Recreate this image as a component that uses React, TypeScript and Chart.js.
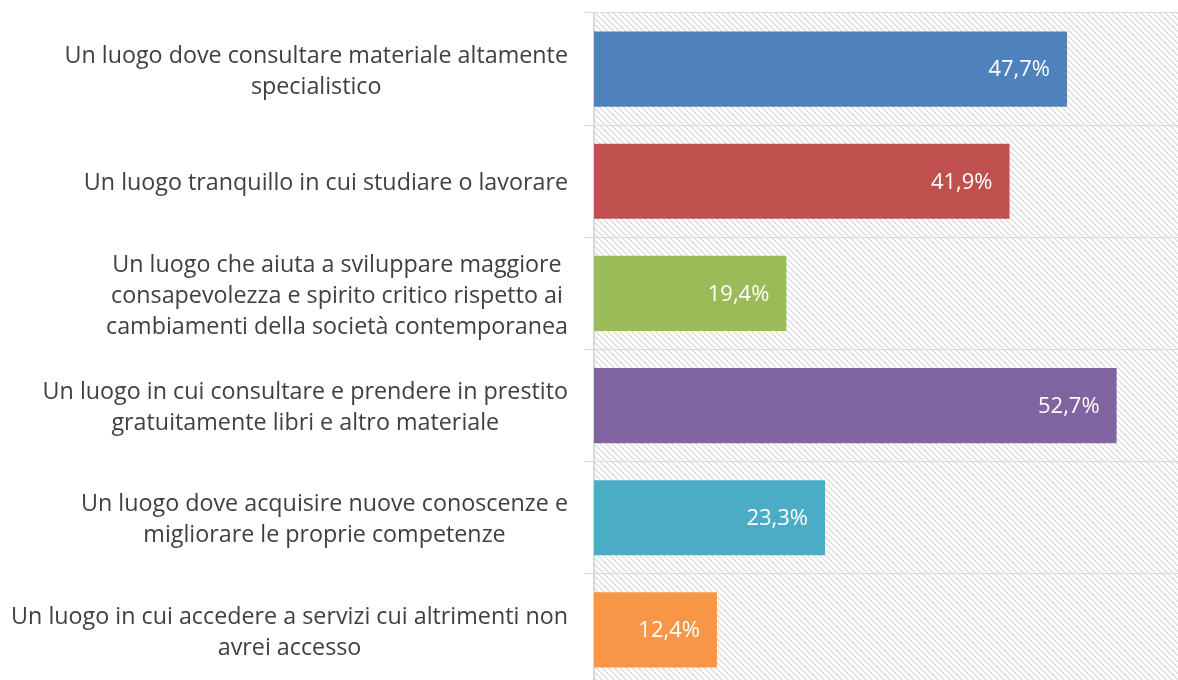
import React, { useEffect, useRef } from "react";
import { Chart, registerables } from "chart.js";

Chart.register(...registerables);

const categories: string[][] = [
  ["Un luogo dove consultare materiale altamente", "specialistico"],
  ["Un luogo tranquillo in cui studiare o lavorare"],
  [
    "Un luogo che aiuta a sviluppare maggiore",
    "consapevolezza e spirito critico rispetto ai",
    "cambiamenti della società contemporanea",
  ],
  ["Un luogo in cui consultare e prendere in prestito", "gratuitamente libri e altro materiale"],
  ["Un luogo dove acquisire nuove conoscenze e", "migliorare le proprie competenze"],
  ["Un luogo in cui accedere a servizi cui altrimenti non", "avrei accesso"],
];

const values: number[] = [47.7, 41.9, 19.4, 52.7, 23.3, 12.4];

const barColors: string[] = ["#4F81BD", "#C0504D", "#9BBB59", "#8064A2", "#4BACC6", "#F79646"];

const FONT = "'Open Sans', 'Noto Sans', sans-serif";
const LABEL_SIZE = 23.3;
const VALUE_SIZE = 22;

function makePattern(ctx: CanvasRenderingContext2D) {
  const size = 6;
  const c = document.createElement("canvas");
  c.width = size;
  c.height = size;
  const p = c.getContext("2d")!;
  p.fillStyle = "#ffffff";
  p.fillRect(0, 0, size, size);
  for (let y = 0; y < size; y++) {
    for (let x = 0; x < size; x++) {
      const d = (((x - y) % size) + size) % size;
      if (d === 0) {
        p.fillStyle = "#d4d4d4";
        p.fillRect(x, y, 1, 1);
      } else if (d === 1) {
        p.fillStyle = "#ececec";
        p.fillRect(x, y, 1, 1);
      }
    }
  }
  return ctx.createPattern(c, "repeat");
}

const hatchPlugin = {
  id: "hatch",
  beforeDraw(chart: any) {
    const { ctx, chartArea } = chart;
    const pat = makePattern(ctx);
    if (!pat) return;
    ctx.save();
    ctx.fillStyle = pat;
    ctx.fillRect(chartArea.left, chartArea.top, chartArea.right - chartArea.left, chartArea.bottom - chartArea.top);
    ctx.restore();
  },
};

const labelPlugin = {
  id: "customLabels",
  afterDraw(chart: any) {
    const { ctx } = chart;
    const yScale = chart.scales.y;
    const rightEdge = chart.chartArea.left - 26;
    const lineH = 31;
    ctx.save();
    ctx.font = `${LABEL_SIZE}px ${FONT}`;
    ctx.fillStyle = "#404040";
    ctx.textAlign = "center";
    ctx.textBaseline = "middle";
    categories.forEach((lines, i) => {
      const yc = yScale.getPixelForValue(i) + 2.5;
      const w = Math.max(...lines.map((l) => ctx.measureText(l).width));
      const xc = rightEdge - w / 2;
      const startY = yc - ((lines.length - 1) * lineH) / 2;
      lines.forEach((l, j) => ctx.fillText(l, xc, startY + j * lineH));
    });

    const meta = chart.getDatasetMeta(0);
    ctx.font = `${VALUE_SIZE}px ${FONT}`;
    ctx.fillStyle = "#ffffff";
    ctx.textAlign = "right";
    meta.data.forEach((bar: any, i: number) => {
      const txt = values[i].toFixed(1).replace(".", ",") + "%";
      ctx.fillText(txt, bar.x - 17, bar.y + 1);
    });
    ctx.restore();
  },
};

export default function App() {
  const ref = useRef<HTMLCanvasElement | null>(null);
  useEffect(() => {
    if (!ref.current) return;
    const chart = new Chart(ref.current, {
      type: "bar",
      data: {
        labels: categories.map((c) => c.join(" ")),
        datasets: [
          {
            data: values,
            backgroundColor: barColors,
            borderWidth: 0,
            categoryPercentage: 1,
            barPercentage: 0.67,
          },
        ],
      },
      options: {
        indexAxis: "y",
        responsive: false,
        animation: false,
        layout: { padding: { top: 13, right: 0, bottom: 0, left: 0 } },
        plugins: { legend: { display: false }, tooltip: { enabled: false } },
        scales: {
          x: { display: false, min: 0, max: 60 },
          y: {
            ticks: { display: false },
            grid: { color: "#d9d9d9", lineWidth: 1, offset: true, drawTicks: true, tickLength: 9 },
            border: { display: true, color: "#d9d9d9", width: 2 },
            afterFit: (scale: any) => {
              scale.width = 594;
            },
          },
        },
      },
      plugins: [hatchPlugin, labelPlugin],
    });
    return () => chart.destroy();
  }, []);
  return (
    <div
      style={{
        position: "fixed",
        left: 0,
        top: 0,
        width: 1178,
        height: 680,
        overflow: "hidden",
        background: "#ffffff",
      }}
    >
      <canvas ref={ref} width={1189} height={686} style={{ display: "block" }} />
    </div>
  );
}
